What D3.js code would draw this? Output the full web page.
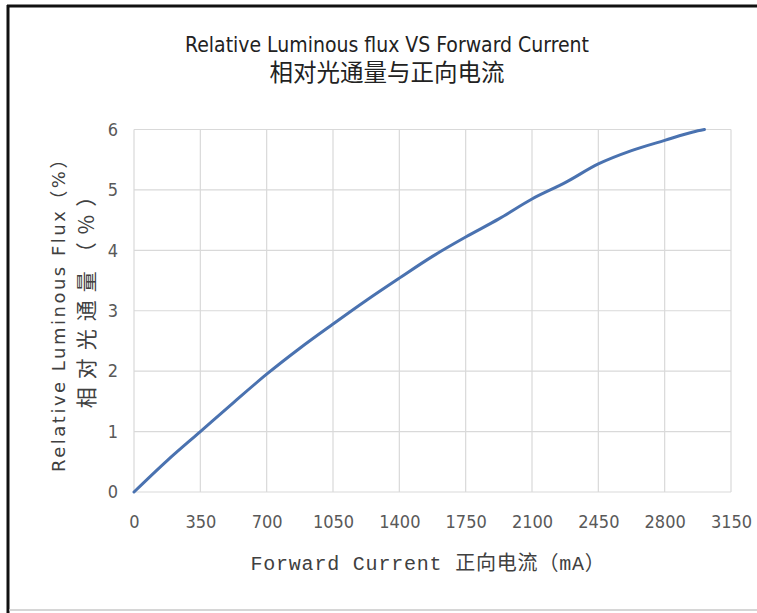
<!DOCTYPE html>
<html>
<head>
<meta charset="utf-8">
<script src="https://cdn.jsdelivr.net/npm/d3@7"></script>
<style>
  body { margin: 0; background: #fff; }
  svg { display: block; }
</style>
</head>
<body>
<div id="chart"></div>
<script>
;(function () {
  // data
  const current = [0, 175, 350, 525, 700, 875, 1050, 1225, 1400, 1575, 1750, 1925, 2100, 2275, 2450, 2625, 2800, 2950, 3010]
  const flux = [0, 0.52, 1.0, 1.48, 1.95, 2.38, 2.78, 3.17, 3.54, 3.9, 4.22, 4.52, 4.85, 5.12, 5.43, 5.65, 5.82, 5.96, 6.0]
  const xTicks = [0, 350, 700, 1050, 1400, 1750, 2100, 2450, 2800, 3150]
  const yTicks = [0, 1, 2, 3, 4, 5, 6]

  const width = 757
  const height = 613
  const margin = { left: 134, right: 26, top: 129.5, bottom: 121 }

  const svg = d3.select("#chart").append("svg").attr("width", width).attr("height", height)

  // frame
  svg.append("line").attr("x1", 8).attr("x2", 8).attr("y1", 5).attr("y2", 613)
    .attr("stroke", "#111").attr("stroke-width", 3)
  svg.append("line").attr("x1", 7).attr("x2", 757).attr("y1", 6).attr("y2", 6)
    .attr("stroke", "#111").attr("stroke-width", 3)
  svg.append("line").attr("x1", 9).attr("x2", 757).attr("y1", 610).attr("y2", 610)
    .attr("stroke", "#c8c8c8").attr("stroke-width", 1.5)

  const x = d3.scaleLinear().domain([0, 3150]).range([margin.left, width - margin.right])
  const y = d3.scaleLinear().domain([0, 6]).range([height - margin.bottom, margin.top])

  const tickFont = "'Liberation Sans Narrow', 'DejaVu Sans Condensed', sans-serif"

  // gridlines
  svg.append("g").selectAll("line").data(xTicks).join("line")
    .attr("x1", d => x(d)).attr("x2", d => x(d))
    .attr("y1", y(0)).attr("y2", y(6))
    .attr("stroke", "#d9d9d9").attr("stroke-width", 1.2)
  svg.append("g").selectAll("line").data(yTicks).join("line")
    .attr("x1", x(0)).attr("x2", x(3150))
    .attr("y1", d => y(d)).attr("y2", d => y(d))
    .attr("stroke", "#d9d9d9").attr("stroke-width", 1.2)

  // axes (labels only)
  const xAxis = svg.append("g").attr("transform", `translate(0,${y(0)})`)
    .call(d3.axisBottom(x).tickValues(xTicks).tickFormat(d3.format("d")).tickSize(0).tickPadding(23))
  const yAxis = svg.append("g").attr("transform", `translate(${x(0)},0)`)
    .call(d3.axisLeft(y).tickValues(yTicks).tickFormat(d3.format("d")).tickSize(0).tickPadding(16))
  ;[xAxis, yAxis].forEach(a => {
    a.select(".domain").remove()
    a.selectAll("text").attr("fill", "#595959").style("font-family", tickFont).style("font-size", "18px")
  })

  // curve
  const line = d3.line().x((d, i) => x(current[i])).y(d => y(d)).curve(d3.curveMonotoneX)
  svg.append("path").datum(flux)
    .attr("d", line)
    .attr("fill", "none")
    .attr("stroke", "#4a72b0")
    .attr("stroke-width", 3)
    .attr("stroke-linecap", "round")

  // titles
  svg.append("text").attr("x", 387).attr("y", 52).attr("text-anchor", "middle")
    .style("font-family", tickFont).style("font-size", "21px").attr("fill", "#222")
    .text("Relative Luminous flux VS Forward Current")
  svg.append("text").attr("x", 387).attr("y", 81).attr("text-anchor", "middle")
    .style("font-family", "'Noto Sans CJK SC', sans-serif").style("font-size", "23.5px").attr("fill", "#222")
    .text("相对光通量与正向电流")

  svg.append("text").attr("transform", "translate(65,310) rotate(-90)").attr("text-anchor", "middle")
    .style("font-family", "'DejaVu Sans', 'Noto Sans CJK SC', sans-serif").style("font-size", "18px")
    .attr("fill", "#404040").attr("letter-spacing", "2.5px")
    .text("Relative Luminous Flux（%）")
  svg.append("text").attr("transform", "translate(94,293) rotate(-90)").attr("text-anchor", "middle")
    .style("font-family", "'Noto Sans CJK SC', sans-serif").style("font-size", "21px")
    .attr("fill", "#404040").attr("letter-spacing", "8px")
    .text("相对光通量（%）")

  svg.append("text").attr("x", 428).attr("y", 570).attr("text-anchor", "middle")
    .style("font-family", "'Liberation Mono', 'Noto Sans CJK SC', monospace").style("font-size", "20px")
    .attr("fill", "#404040").attr("letter-spacing", "0.8px")
    .text("Forward Current 正向电流（mA）")
})()
</script>
</body>
</html>
